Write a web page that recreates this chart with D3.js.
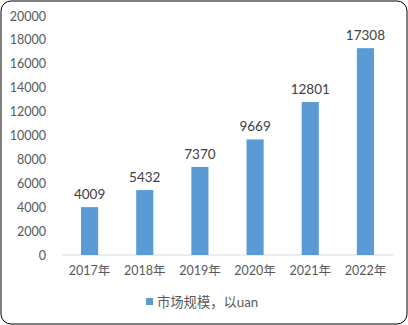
<!DOCTYPE html>
<html>
<head>
<meta charset="utf-8">
<script src="https://cdn.jsdelivr.net/npm/d3@7"></script>
<style>
  body { margin: 0; background: #fff; }
  svg text { font-family: Lato, "Noto Sans CJK SC", sans-serif; }
</style>
</head>
<body>
<svg id="chart" width="408" height="325"></svg>
<script>
// Chart data
const years = ["2017年", "2018年", "2019年", "2020年", "2021年", "2022年"];
const marketSize = [4009, 5432, 7370, 9669, 12801, 17308];
const yTicks = [0, 2000, 4000, 6000, 8000, 10000, 12000, 14000, 16000, 18000, 20000];
const seriesName = "市场规模，以uan";

// Select SVG
const svg = d3.select("#chart"),
    width = +svg.attr("width"),
    height = +svg.attr("height");

// Outer frame
svg.append("rect")
    .attr("x", 1).attr("y", 1)
    .attr("width", width - 2).attr("height", height - 2)
    .attr("rx", 10)
    .attr("fill", "#fff")
    .attr("stroke", "#000")
    .attr("stroke-width", 1);

// Scales
const x = d3.scaleBand()
    .domain(years)
    .range([62, 393])
    .paddingInner(0.69)
    .paddingOuter(0.345);

const y = d3.scaleLinear()
    .domain([0, 20000])
    .range([255, 16]);

// Y axis labels
const yAxis = svg.append("g")
    .attr("transform", "translate(46,0)")
    .call(d3.axisLeft(y).tickValues(yTicks).tickSize(0).tickPadding(0).tickFormat(d3.format("d")));
yAxis.select(".domain").remove();
yAxis.selectAll("text")
    .attr("fill", "#595959")
    .style("font-size", "12.5px");

// Baseline
svg.append("line")
    .attr("x1", 62).attr("x2", 393)
    .attr("y1", y(0)).attr("y2", y(0))
    .attr("stroke", "#d9d9d9")
    .attr("stroke-width", 1);

// X axis labels
const xAxis = svg.append("g")
    .attr("transform", `translate(0,${y(0)})`)
    .call(d3.axisBottom(x).tickSize(0).tickPadding(11));
xAxis.select(".domain").remove();
xAxis.selectAll("text")
    .attr("fill", "#595959")
    .style("font-size", "12.5px");

// Bars
svg.append("g")
    .selectAll("rect")
    .data(marketSize)
    .join("rect")
    .attr("x", (d, i) => x(years[i]))
    .attr("y", d => y(d))
    .attr("width", x.bandwidth())
    .attr("height", d => y(0) - y(d))
    .attr("fill", "#5b9bd5");

// Value labels
svg.append("g")
    .selectAll("text")
    .data(marketSize)
    .join("text")
    .attr("x", (d, i) => x(years[i]) + x.bandwidth() / 2)
    .attr("y", d => y(d) - 8)
    .attr("text-anchor", "middle")
    .attr("fill", "#404040")
    .style("font-size", "13.5px")
    .text(d => d);

// Legend
const legend = svg.append("g").attr("transform", "translate(146,302)");
legend.append("rect")
    .attr("x", 0).attr("y", -4)
    .attr("width", 7).attr("height", 7)
    .attr("fill", "#5b9bd5");
legend.append("text")
    .attr("x", 11).attr("y", 0)
    .attr("dy", "0.35em")
    .attr("fill", "#595959")
    .style("font-size", "13.3px")
    .text(seriesName);
</script>
</body>
</html>
